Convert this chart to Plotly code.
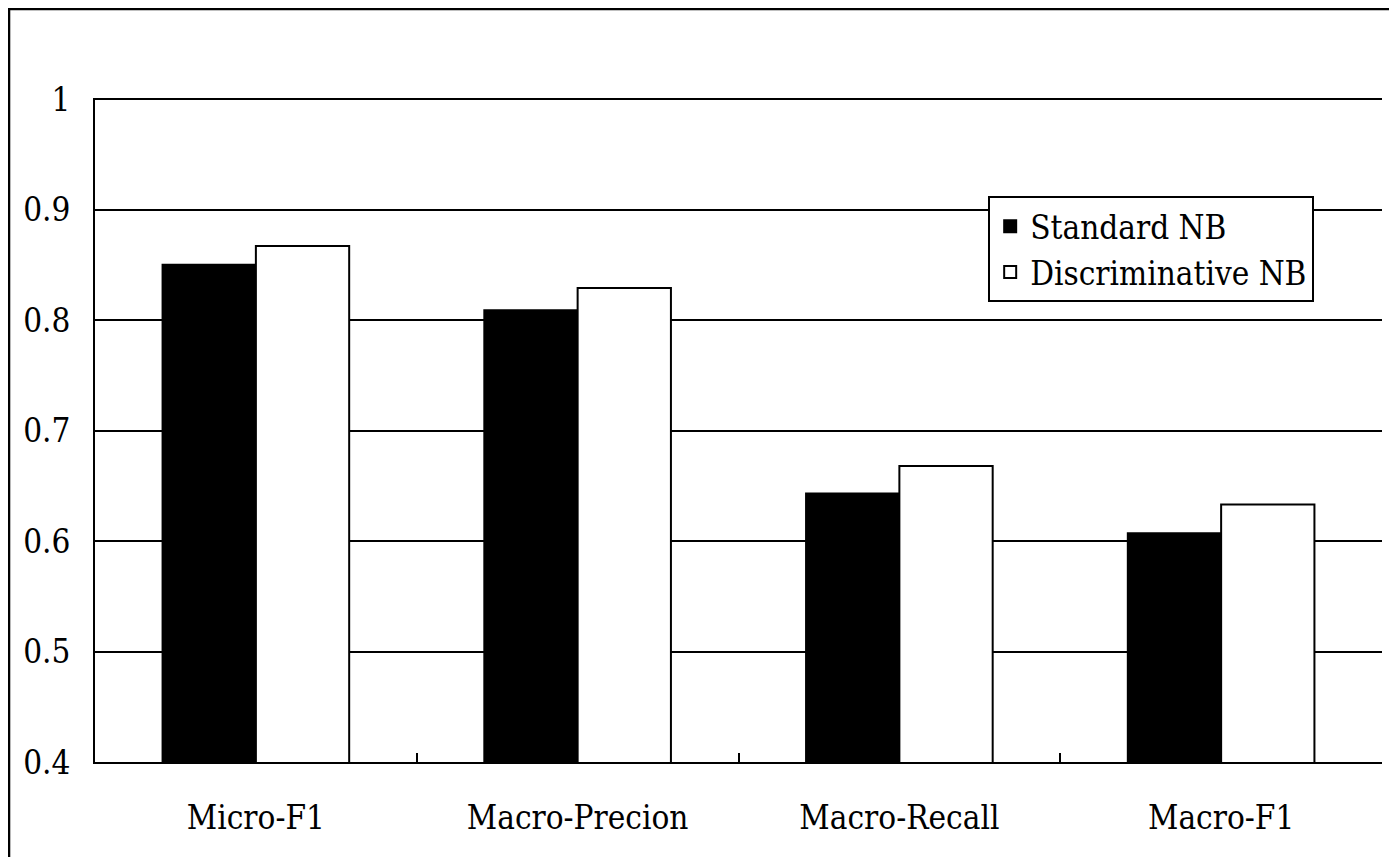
import plotly.graph_objects as go

categories = ["Micro-F1", "Macro-Precion", "Macro-Recall", "Macro-F1"]
standard_nb = [0.850, 0.809, 0.643, 0.607]
discriminative_nb = [0.867, 0.829, 0.668, 0.633]
y_ticks = [0.4, 0.5, 0.6, 0.7, 0.8, 0.9, 1.0]
y_tick_labels = ["0.4", "0.5", "0.6", "0.7", "0.8", "0.9", "1"]

FONT = "DejaVu Serif Condensed, DejaVu Serif"
SIZE = 33

fig = go.Figure()
fig.add_trace(go.Bar(
    x=categories, y=standard_nb, name="Standard NB",
    marker=dict(color="black", line=dict(color="black", width=2)),
))
fig.add_trace(go.Bar(
    x=categories, y=discriminative_nb, name="Discriminative NB",
    marker=dict(color="white", line=dict(color="black", width=2)),
))

fig.update_layout(
    width=1389, height=849,
    margin=dict(l=87, r=15, t=90, b=95, autoexpand=False),
    paper_bgcolor="white", plot_bgcolor="white",
    barmode="group", bargap=0.42, bargroupgap=0,
    font=dict(family=FONT, size=SIZE, color="black"),
    showlegend=True,
    legend=dict(
        x=0.694, y=0.852, xanchor="left", yanchor="top",
        bgcolor="white", bordercolor="black", borderwidth=2,
        font=dict(family=FONT, size=SIZE, color="black"),
        itemwidth=30, tracegroupgap=0,
    ),
    xaxis=dict(
        type="category", showline=True, linecolor="black", linewidth=2,
        ticks="inside", tickson="boundaries", ticklen=9, tickwidth=2, tickcolor="black",
        showgrid=False, ticklabelstandoff=25, automargin=False,
        tickfont=dict(family=FONT, size=SIZE, color="black"),
    ),
    yaxis=dict(
        range=[0.4, 1.001], tickmode="array", tickvals=y_ticks, ticktext=y_tick_labels,
        showline=True, linecolor="black", linewidth=2,
        showgrid=True, gridcolor="black", gridwidth=2,
        ticks="", ticklabelstandoff=16, zeroline=False, automargin=False,
        tickfont=dict(family=FONT, size=SIZE, color="black"),
    ),
    shapes=[dict(
        type="rect", xref="paper", yref="paper",
        x0=-0.0668, x1=1.1, y0=-0.3, y1=1.1340,
        line=dict(color="black", width=2.5), fillcolor="rgba(0,0,0,0)", layer="below",
    )],
)

fig.write_html("out.html")
